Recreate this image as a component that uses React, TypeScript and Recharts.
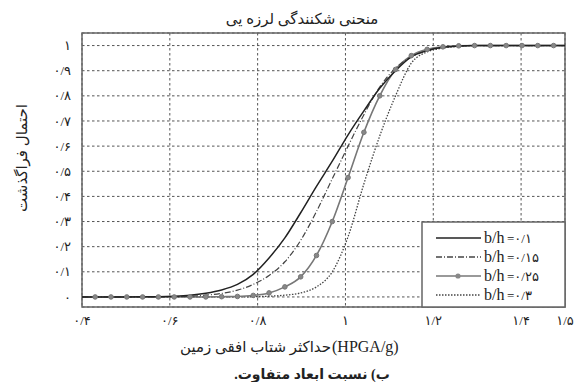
import React from 'react';
import { LineChart, Line, XAxis, YAxis, CartesianGrid, ReferenceArea } from 'recharts';

// PGA sample points (g)
const xValues = [0.4, 0.43, 0.466, 0.502, 0.538, 0.574, 0.61, 0.646, 0.682, 0.718, 0.754, 0.79, 0.826, 0.862, 0.898, 0.934, 0.97, 1.006, 1.042, 1.078, 1.114, 1.15, 1.186, 1.222, 1.258, 1.294, 1.33, 1.366, 1.402, 1.438, 1.474, 1.5];

// exceedance probability for each b/h ratio
const bh010 = [0, 0, 0, 0, 0.0005, 0.001, 0.003, 0.007, 0.015, 0.028, 0.05, 0.09, 0.155, 0.235, 0.335, 0.44, 0.54, 0.645, 0.74, 0.83, 0.9, 0.955, 0.98, 0.993, 0.998, 1, 1, 1, 1, 1, 1, 1];
const bh015 = [0, 0, 0, 0, 0, 0, 0.001, 0.003, 0.007, 0.014, 0.027, 0.05, 0.085, 0.14, 0.225, 0.34, 0.47, 0.6, 0.725, 0.835, 0.91, 0.955, 0.98, 0.993, 0.998, 1, 1, 1, 1, 1, 1, 1];
const bh025 = [0, 0, 0, 0, 0, 0, 0, 0, 0, 0.001, 0.002, 0.006, 0.016, 0.04, 0.08, 0.165, 0.3, 0.475, 0.655, 0.8, 0.905, 0.96, 0.985, 0.995, 0.999, 1, 1, 1, 1, 1, 1, 1];
const bh030 = [0, 0, 0, 0, 0, 0, 0, 0, 0, 0, 0, 0.001, 0.003, 0.007, 0.016, 0.04, 0.1, 0.24, 0.45, 0.64, 0.8, 0.93, 0.975, 0.99, 0.997, 1, 1, 1, 1, 1, 1, 1];

const xTicks = [0.4, 0.6, 0.8, 1, 1.2, 1.4, 1.5];
const xTickLabels = ['۰/۴', '۰/۶', '۰/۸', '۱', '۱/۲', '۱/۴', '۱/۵'];
const yTicks = [0, 0.1, 0.2, 0.3, 0.4, 0.5, 0.6, 0.7, 0.8, 0.9, 1];
const yTickLabels = ['۰', '۰/۱', '۰/۲', '۰/۳', '۰/۴', '۰/۵', '۰/۶', '۰/۷', '۰/۸', '۰/۹', '۱'];

const legendItems = [
  { label: '=۰/۱', color: '#222', dash: undefined, marker: false },
  { label: '=۰/۱۵', color: '#444', dash: '6 2 1 2', marker: false },
  { label: '=۰/۲۵', color: '#777', dash: undefined, marker: true },
  { label: '=۰/۳', color: '#444', dash: '1.5 1.5', marker: false },
];

const data = xValues.map((x, i) => ({
  x,
  a: bh010[i],
  b: bh015[i],
  c: bh025[i],
  d: bh030[i],
}));

const FONT = 'Liberation Serif, Times New Roman, DejaVu Sans, serif';
const LATIN = 'Liberation Serif, Times New Roman, serif';

const StarDot = (props: any) => {
  const { cx, cy, index } = props;
  if (index === 0 || index === xValues.length - 1) return <g key={`d${index}`} />;
  return <circle key={`d${index}`} cx={cx} cy={cy} r={2.3} fill="#888" stroke="#777" strokeWidth={1} />;
};

const App: React.FC = () => {
  return (
    <div style={{ position: 'absolute', left: 0, top: 0, width: 574, height: 382, background: '#fff' }}>
      <LineChart width={574} height={382} data={data} margin={{ top: 33, right: 9, left: 0, bottom: 0 }}>
        <CartesianGrid stroke="#555" strokeDasharray="2.5 2.5" strokeWidth={1} />
        <XAxis
          type="number"
          dataKey="x"
          domain={[0.4, 1.5]}
          ticks={xTicks}
          tickFormatter={(v: number) => xTickLabels[xTicks.indexOf(v)] ?? ''}
          axisLine={false}
          tickLine={false}
          tickSize={0}
          tickMargin={9}
          height={75}
          tick={{ fontSize: 13, fill: '#222', fontFamily: FONT }}
        />
        <YAxis
          type="number"
          domain={[-0.04, 1.05]}
          ticks={yTicks}
          allowDataOverflow
          tickFormatter={(v: number) => yTickLabels[Math.round(v * 10)] ?? ''}
          axisLine={false}
          tickLine={false}
          tickSize={0}
          tickMargin={11}
          width={82}
          tick={{ fontSize: 13, fill: '#222', fontFamily: FONT }}
        />
        <ReferenceArea x1={0.4} x2={1.5} y1={-0.04} y2={1.05} fill="none" stroke="#666" strokeWidth={1.5} />
        <Line type="monotone" dataKey="d" stroke="#444" strokeWidth={1.3} strokeDasharray="1.5 1.5" dot={false} isAnimationActive={false} />
        <Line type="monotone" dataKey="c" stroke="#777" strokeWidth={1.6} dot={StarDot} isAnimationActive={false} />
        <Line type="monotone" dataKey="b" stroke="#444" strokeWidth={1.2} strokeDasharray="6 2 1 2" dot={false} isAnimationActive={false} />
        <Line type="monotone" dataKey="a" stroke="#222" strokeWidth={1.5} dot={false} isAnimationActive={false} />
      </LineChart>
      <svg width={574} height={382} style={{ position: 'absolute', left: 0, top: 0, pointerEvents: 'none' }}>
        <text x={302} y={24} textAnchor="middle" fontSize={15} fontFamily={FONT} fill="#222">منحنی شکنندگی لرزه یی</text>
        <text x={331} y={352} textAnchor="end" fontSize={15} fontFamily={FONT} fill="#222">حداکثر شتاب افقی زمین</text>
        <text x={332} y={352} textAnchor="start" fontSize={16} fontFamily={LATIN} fill="#222">(HPGA/g)</text>
        <text x={312} y={379} textAnchor="middle" fontSize={14} fontWeight="bold" fontFamily={FONT} fill="#222" direction="rtl">ب) نسبت ابعاد متفاوت.</text>
        <text x={0} y={0} transform="translate(27,158) rotate(-90)" textAnchor="middle" fontSize={15} fontFamily={FONT} fill="#222">احتمال فراگذشت</text>
        <rect x={422} y={222} width={143} height={85} fill="#fff" stroke="#666" strokeWidth={1.5} />
        {legendItems.map((it, i) => {
          const y = 238 + i * 19;
          return (
            <g key={it.label}>
              <line x1={436} x2={481} y1={y} y2={y} stroke={it.color} strokeWidth={1.4} strokeDasharray={it.dash} />
              {it.marker && <circle cx={458} cy={y} r={2.6} fill="#888" />}
              <text x={484} y={y + 5} fontSize={16} fontFamily={LATIN} fill="#222">b/h</text>
              <text x={507} y={y + 5} fontSize={13} fontFamily={FONT} fill="#222">{it.label}</text>
            </g>
          );
        })}
      </svg>
    </div>
  );
};

export default App;
